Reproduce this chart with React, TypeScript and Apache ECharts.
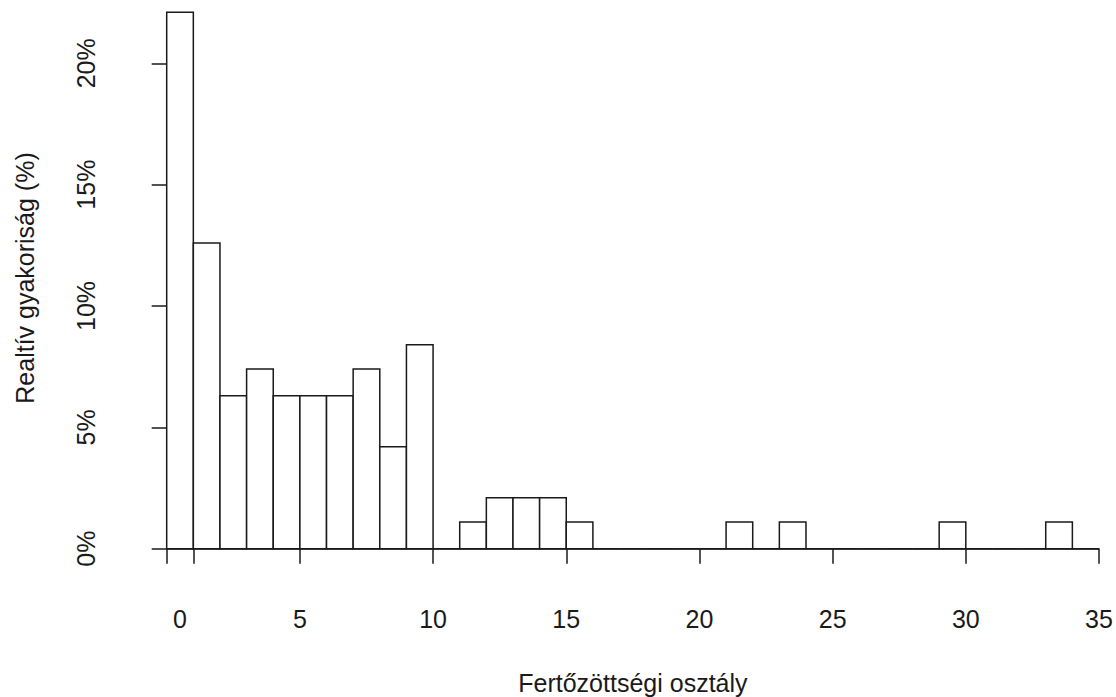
import React, { useEffect, useRef } from "react";
import * as echarts from "echarts";

// Bin starts (class lower edges) and relative frequency (%) of each bin
const binStarts = [0, 1, 2, 3, 4, 5, 6, 7, 8, 9, 10, 11, 12, 13, 14, 15, 16, 17, 18, 19, 20, 21, 22, 23, 24, 25, 26, 27, 28, 29, 30, 31, 32, 33, 34];
const relFreq = [22.1, 12.6, 6.3, 7.4, 6.3, 6.3, 6.3, 7.4, 4.2, 8.4, 0, 1.1, 2.1, 2.1, 2.1, 1.1, 0, 0, 0, 0, 0, 1.1, 0, 1.1, 0, 0, 0, 0, 0, 1.1, 0, 0, 0, 1.1, 0];

// Axis ticks / labels
const xTickValues = [0, 1, 5, 10, 15, 20, 25, 30, 35];
const xLabelValues = [0.5, 5, 10, 15, 20, 25, 30, 35];
const xLabelTexts = ["0", "5", "10", "15", "20", "25", "30", "35"];
const yTickValues = [0, 5, 10, 15, 20];
const yTickLabels = ["0%", "5%", "10%", "15%", "20%"];

const xTitle = "Fertőzöttségi osztály";
const yTitle = "Realtív gyakoriság (%)";

const FONT = '"Liberation Sans", Arial, sans-serif';
const INK = "#1a1a1a";

export default function App() {
  const ref = useRef<HTMLDivElement>(null);

  useEffect(() => {
    if (!ref.current) return;
    const chart = echarts.init(ref.current, undefined, { renderer: "svg" });

    const data = binStarts.map((b, i) => [b, b + 1, relFreq[i]]);

    const option: any = {
      animation: false,
      backgroundColor: "#ffffff",
      grid: [
        { left: 166.7, top: 2.6, width: 932.3, height: 546.1 },
        { left: 166.7, top: 63.3, width: 932.3, height: 485.4 },
      ],
      xAxis: [
        {
          type: "value",
          gridIndex: 0,
          min: 0,
          max: 35,
          offset: 21.3,
          splitLine: { show: false },
          axisLine: { show: true, lineStyle: { color: INK, width: 1.5 } },
          axisTick: {
            show: true,
            length: 15,
            customValues: xTickValues,
            lineStyle: { color: INK, width: 1.5 },
          },
          axisLabel: {
            show: true,
            margin: 36,
            customValues: xLabelValues,
            formatter: (v: number) => {
              const idx = xLabelValues.indexOf(v);
              return idx >= 0 ? xLabelTexts[idx] : "";
            },
            fontFamily: FONT,
            fontSize: 25,
            color: INK,
          },
        },
        {
          type: "value",
          gridIndex: 1,
          min: 0,
          max: 35,
          show: false,
        },
      ],
      yAxis: [
        {
          type: "value",
          gridIndex: 0,
          min: 0,
          max: 22.5,
          show: false,
        },
        {
          type: "value",
          gridIndex: 1,
          min: 0,
          max: 20,
          interval: 5,
          offset: 37.4,
          splitLine: { show: false },
          axisLine: { show: true, lineStyle: { color: INK, width: 1.5 } },
          axisTick: {
            show: true,
            length: 15,
            customValues: yTickValues,
            lineStyle: { color: INK, width: 1.5 },
          },
          axisLabel: {
            show: true,
            rotate: 90,
            margin: 31,
            customValues: yTickValues,
            formatter: (v: number) => {
              const idx = yTickValues.indexOf(v);
              return idx >= 0 ? yTickLabels[idx] : "";
            },
            fontFamily: FONT,
            fontSize: 25,
            color: INK,
          },
        },
      ],
      series: [
        {
          type: "custom",
          xAxisIndex: 0,
          yAxisIndex: 0,
          data,
          encode: { x: [0, 1], y: 2 },
          renderItem: (params: any, api: any) => {
            const p0 = api.coord([api.value(0), api.value(2)]);
            const p1 = api.coord([api.value(1), 0]);
            return {
              type: "rect",
              shape: {
                x: p0[0],
                y: p0[1],
                width: p1[0] - p0[0],
                height: p1[1] - p0[1],
              },
              style: { fill: "#ffffff", stroke: INK, lineWidth: 1.5 },
            };
          },
        },
      ],
      graphic: [
        {
          type: "text",
          x: 632.9,
          y: 683,
          style: {
            text: xTitle,
            font: `25px ${FONT}`,
            fill: INK,
            align: "center",
            verticalAlign: "middle",
          },
        },
        {
          type: "text",
          x: 25,
          y: 278,
          rotation: Math.PI / 2,
          style: {
            text: yTitle,
            font: `25px ${FONT}`,
            fill: INK,
            align: "center",
            verticalAlign: "middle",
          },
        },
      ],
    };

    chart.setOption(option);
    return () => chart.dispose();
  }, []);

  return (
    <div
      ref={ref}
      style={{ position: "fixed", left: 0, top: 0, width: 1116, height: 697 }}
    />
  );
}
